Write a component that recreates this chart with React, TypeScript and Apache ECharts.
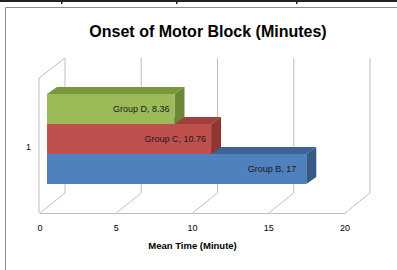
import React, { useEffect, useRef } from "react";
import * as echarts from "echarts";

const titleText = "Onset of Motor Block (Minutes)";
const categories = ["1"];
const groups = ["Group B", "Group C", "Group D"];
const values = [17, 10.76, 8.36];
const xTicks = [0, 5, 10, 15, 20];
const axisName = "Mean Time (Minute)";

const faceColors = [
  { front: "#4F81BD", top: "#3C6496", side: "#355A86" },
  { front: "#C0504D", top: "#A0403D", side: "#8E3632" },
  { front: "#9BBB59", top: "#7A963D", side: "#6C8736" },
];

const gridColor = "#BFBFBF";

export default function App() {
  const ref = useRef<HTMLDivElement>(null);
  useEffect(() => {
    if (!ref.current) return;
    const chart = echarts.init(ref.current, null, { renderer: "svg" });
    const font = "Liberation Sans";
    const option: any = {
      animation: false,
      backgroundColor: "#ffffff",
      title: {
        text: titleText,
        left: 203,
        textAlign: "center",
        top: 18,
        textStyle: { fontSize: 16, fontWeight: "bold", fontFamily: font, color: "#000" },
      },
      grid: { left: 40, right: 52, top: 81, bottom: 57, containLabel: false },
      xAxis: {
        type: "value",
        min: 0,
        max: 20,
        interval: 5,
        axisLine: { show: true, lineStyle: { color: gridColor } },
        axisTick: { show: false },
        splitLine: { show: false },
        axisLabel: { fontSize: 9, fontFamily: font, color: "#000", margin: 10 },
        name: axisName,
        nameLocation: "middle",
        nameGap: 27,
        nameTextStyle: { fontSize: 9.5, fontWeight: "bold", fontFamily: font, color: "#000" },
      },
      yAxis: {
        type: "category",
        data: categories,
        axisLine: { show: false },
        axisTick: { show: false },
        axisLabel: { fontSize: 9, fontFamily: font, color: "#000", margin: 9 },
      },
      series: [
        {
          type: "custom",
          clip: false,
          silent: true,
          data: xTicks.map((v) => [v, 0]),
          renderItem: (params: any, api: any) => {
            const cs = params.coordSys;
            const bottom = cs.y + cs.height;
            const px = api.coord([api.value(0), 0])[0];
            const children: any[] = [
              {
                type: "polyline",
                shape: {
                  points: [
                    [px, bottom],
                    [px + 25, bottom - 20],
                    [px + 25, bottom - 155],
                  ],
                },
                style: { stroke: gridColor, lineWidth: 1, fill: "none" },
              },
            ];
            if (api.value(0) === xTicks[0]) {
              children.push({
                type: "polyline",
                shape: {
                  points: [
                    [px - 1, bottom],
                    [px - 1, bottom - 135],
                    [px + 25, bottom - 155],
                  ],
                },
                style: { stroke: gridColor, lineWidth: 1, fill: "none" },
              });
            }
            return { type: "group", children };
          },
          z: 1,
        },
        {
          type: "custom",
          clip: false,
          data: groups.map((g, i) => [values[i], 0, i]),
          renderItem: (params: any, api: any) => {
            const v = api.value(0);
            const i = api.value(2);
            const p0 = api.coord([0, 0]);
            const p1 = api.coord([v, 0]);
            const ox = 7;
            const x0 = p0[0] + ox;
            const x1 = p1[0] + ox;
            const h = 30;
            const yb = p0[1] + 37 - i * h;
            const yt = yb - h;
            const dx = 10;
            const dy = -7;
            const c = faceColors[i];
            return {
              type: "group",
              children: [
                {
                  type: "polygon",
                  shape: { points: [[x0, yt], [x1, yt], [x1 + dx, yt + dy], [x0 + dx, yt + dy]] },
                  style: { fill: c.top },
                },
                {
                  type: "polygon",
                  shape: { points: [[x1, yt], [x1 + dx, yt + dy], [x1 + dx, yb + dy], [x1, yb]] },
                  style: { fill: c.side },
                },
                {
                  type: "rect",
                  shape: { x: x0, y: yt, width: x1 - x0, height: h },
                  style: { fill: c.front },
                },
                {
                  type: "text",
                  style: {
                    text: groups[i] + ", " + v,
                    x: x1 - (i === 0 ? 10 : 5),
                    y: yt + h / 2,
                    align: "right",
                    verticalAlign: "middle",
                    fontSize: 9,
                    fontFamily: font,
                    fill: "#1a1a1a",
                  },
                },
              ],
            };
          },
          z: 2,
        },
      ],
      graphic: [
        { type: "rect", shape: { x: 0, y: 0, width: 397, height: 2 }, style: { fill: "#222" } },
        { type: "rect", shape: { x: 61, y: 0, width: 1.5, height: 4 }, style: { fill: "#222" } },
        { type: "rect", shape: { x: 176, y: 0, width: 1.5, height: 4 }, style: { fill: "#222" } },
        { type: "rect", shape: { x: 296, y: 0, width: 1.5, height: 4 }, style: { fill: "#222" } },
        { type: "line", shape: { x1: 5.5, y1: 7.5, x2: 397, y2: 7.5 }, style: { stroke: "#8c8c8c", lineWidth: 1 } },
        { type: "line", shape: { x1: 5.5, y1: 7.5, x2: 5.5, y2: 270 }, style: { stroke: "#8c8c8c", lineWidth: 1 } },
      ],
    };
    chart.setOption(option);
    return () => chart.dispose();
  }, []);
  return <div ref={ref} style={{ width: 397, height: 270, position: "fixed", left: 0, top: 0 }} />;
}
